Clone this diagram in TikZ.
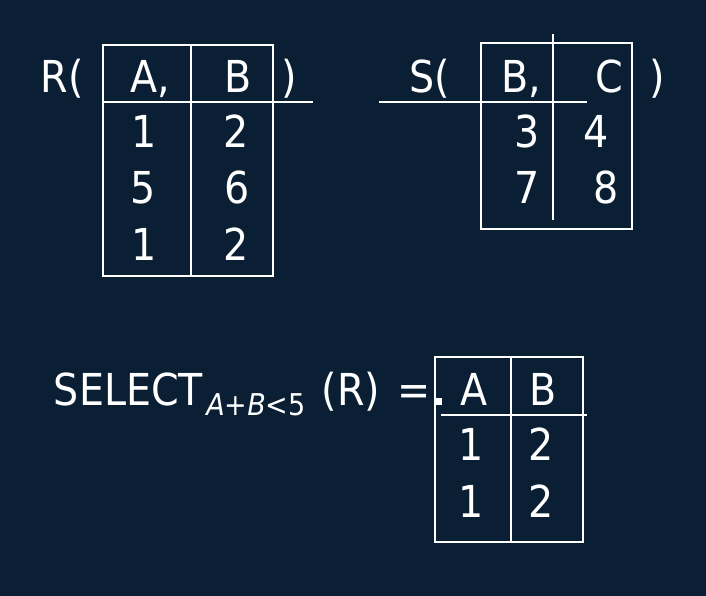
\documentclass[tikz,border=0pt]{standalone}
\usepackage{fontspec}
\setmainfont{DejaVu Sans}[FakeStretch=0.9]
\definecolor{bgnavy}{RGB}{11,31,52}
\begin{document}
\begin{tikzpicture}[x=1pt,y=-1pt,
  txt/.style={text=white, anchor=base, inner sep=0pt, font=\fontsize{44}{52}\selectfont},
  subtxt/.style={text=white, anchor=base, inner sep=0pt, font=\fontsize{30}{36}\selectfont},
  rule/.style={draw=white, line width=1.6pt}]
\fill[bgnavy] (0,0) rectangle (706,596);
\useasboundingbox (0,0) rectangle (706,596);

% ---- R table ----
\draw[rule] (103,45) rectangle (273,276);
\draw[rule] (191,45) -- (191,276);
\draw[rule] (103,102) -- (313,102);
\node[txt] (rname) at (62,93) {R(};
\node[txt] (rA) at (150,93) {A,};
\node[txt] (rB) at (238.5,93) {B};
\node[txt] (rclose) at (289.5,93) {)};
\node[txt] (r11) at (144,148) {1};
\node[txt] (r12) at (236,148) {2};
\node[txt] (r21) at (143.5,203) {5};
\node[txt] (r22) at (237,203) {6};
\node[txt] (r31) at (144,260) {1};
\node[txt] (r32) at (236,260) {2};

% ---- S table ----
\draw[rule] (481,43) rectangle (632,229);
\draw[rule] (553,34) -- (553,220);
\draw[rule] (379,102) -- (587,102);
\node[txt] (sname) at (430,93) {S(};
\node[txt] (sB) at (521.5,93) {B,};
\node[txt] (sC) at (609,93) {C};
\node[txt] (sclose) at (657.5,93) {)};
\node[txt] (s11) at (527,148) {3};
\node[txt] (s12) at (596.5,148) {4};
\node[txt] (s21) at (527,203) {7};
\node[txt] (s22) at (606.5,203) {8};

% ---- SELECT result ----
\node[txt] (sel) at (128.5,405) {SELECT};
\node[subtxt] (cond) at (256,415) {\itshape A\upshape +\itshape B\upshape <5};
\node[txt] (arg) at (351,405) {(R)};
\node[txt] (eq) at (414.5,405) {=};
\fill[white] (435,398) rectangle (442,405);
\draw[rule] (435,357) rectangle (583,542);
\draw[rule] (511,357) -- (511,542);
\draw[rule] (441,415) -- (587,415);
\node[txt] (tA) at (474.5,405) {A};
\node[txt] (tB) at (543.5,405) {B};
\node[txt] (t11) at (471,460) {1};
\node[txt] (t12) at (541,460) {2};
\node[txt] (t21) at (471,517) {1};
\node[txt] (t22) at (541,517) {2};
\end{tikzpicture}
\end{document}
